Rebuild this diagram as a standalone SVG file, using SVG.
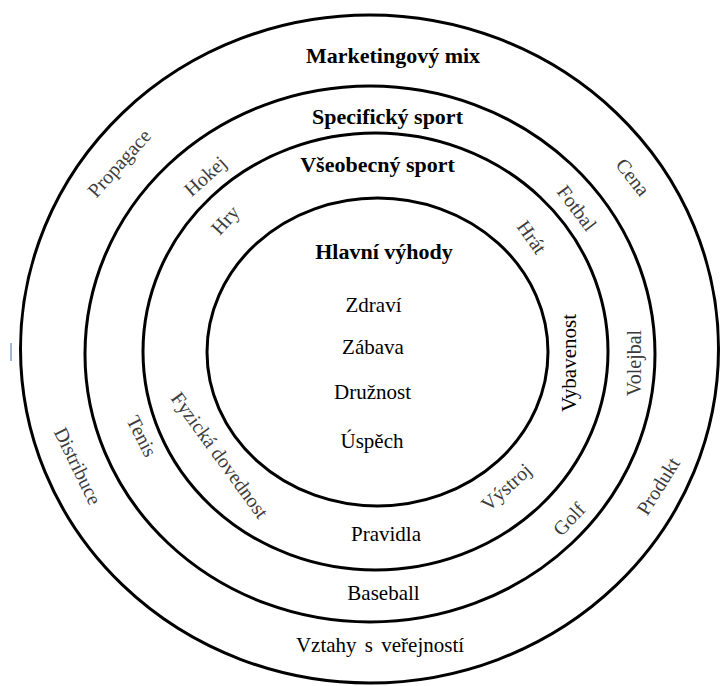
<svg xmlns="http://www.w3.org/2000/svg" width="721" height="686" viewBox="0 0 721 686">
<style>
.ring{fill:none;stroke:#000;stroke-width:3}
text{font-family:'Liberation Serif',Tinos,'Times New Roman',Times,serif}
.h{font-size:22px;font-weight:bold;fill:#000;text-anchor:middle}
.t{font-size:21px;fill:#000;text-anchor:middle}
.l{font-size:20px;fill:#3c3c3c;text-anchor:middle}
</style>
<rect width="721" height="686" fill="#fff"/>
<rect x="10" y="343" width="2" height="18" fill="#a3b6d2"/>
<g id="ring-marketing">
<ellipse class="ring" cx="369.5" cy="349" rx="349" ry="334"/>
<text class="h" x="393" y="63" font-family="Liberation Serif, serif">Marketingový mix</text>
<text class="l" transform="translate(119,163) rotate(-48)" y="7">Propagace</text>
<text class="l" transform="translate(633,177) rotate(52)" y="7">Cena</text>
<text class="l" transform="translate(78,466) rotate(64)" y="7">Distribuce</text>
<text class="l" transform="translate(658,486) rotate(-58)" y="7">Produkt</text>
<text class="t" x="380" y="652" word-spacing="3">Vztahy s veřejností</text>
</g>
<g id="ring-specific">
<ellipse class="ring" cx="370" cy="354" rx="285" ry="268"/>
<text class="h" x="387.5" y="124">Specifický sport</text>
<text class="l" transform="translate(205,176) rotate(-42)" y="7">Hokej</text>
<text class="l" transform="translate(577,208) rotate(53)" y="7">Fotbal</text>
<text class="l" transform="translate(142,436) rotate(63)" y="7">Tenis</text>
<text class="l" transform="translate(634,363) rotate(-90)" y="7">Volejbal</text>
<text class="l" transform="translate(569,519) rotate(-47)" y="7">Golf</text>
<text class="t" x="383.5" y="600">Baseball</text>
</g>
<g id="ring-general">
<ellipse class="ring" cx="375.5" cy="351.5" rx="232.5" ry="218.5"/>
<text class="h" x="377.5" y="172">Všeobecný sport</text>
<text class="l" transform="translate(225,220) rotate(-48)" y="7">Hry</text>
<text class="l" transform="translate(532,237) rotate(55)" y="7">Hrát</text>
<text class="t" transform="translate(569,363) rotate(-90)" y="7">Vybavenost</text>
<text class="l" transform="translate(220,455) rotate(54)" y="7">Fyzická dovednost</text>
<text class="l" transform="translate(506,487) rotate(-42)" y="7">Výstroj</text>
<text class="t" x="386" y="541">Pravidla</text>
</g>
<g id="core">
<ellipse class="ring" cx="377.5" cy="352" rx="170.5" ry="154"/>
<text class="h" x="384" y="259">Hlavní výhody</text>
<text class="t" x="373.5" y="312">Zdraví</text>
<text class="t" x="373" y="354">Zábava</text>
<text class="t" x="372.5" y="399">Družnost</text>
<text class="t" x="372" y="448">Úspěch</text>
</g>
<g id="connectors"></g>
</svg>
